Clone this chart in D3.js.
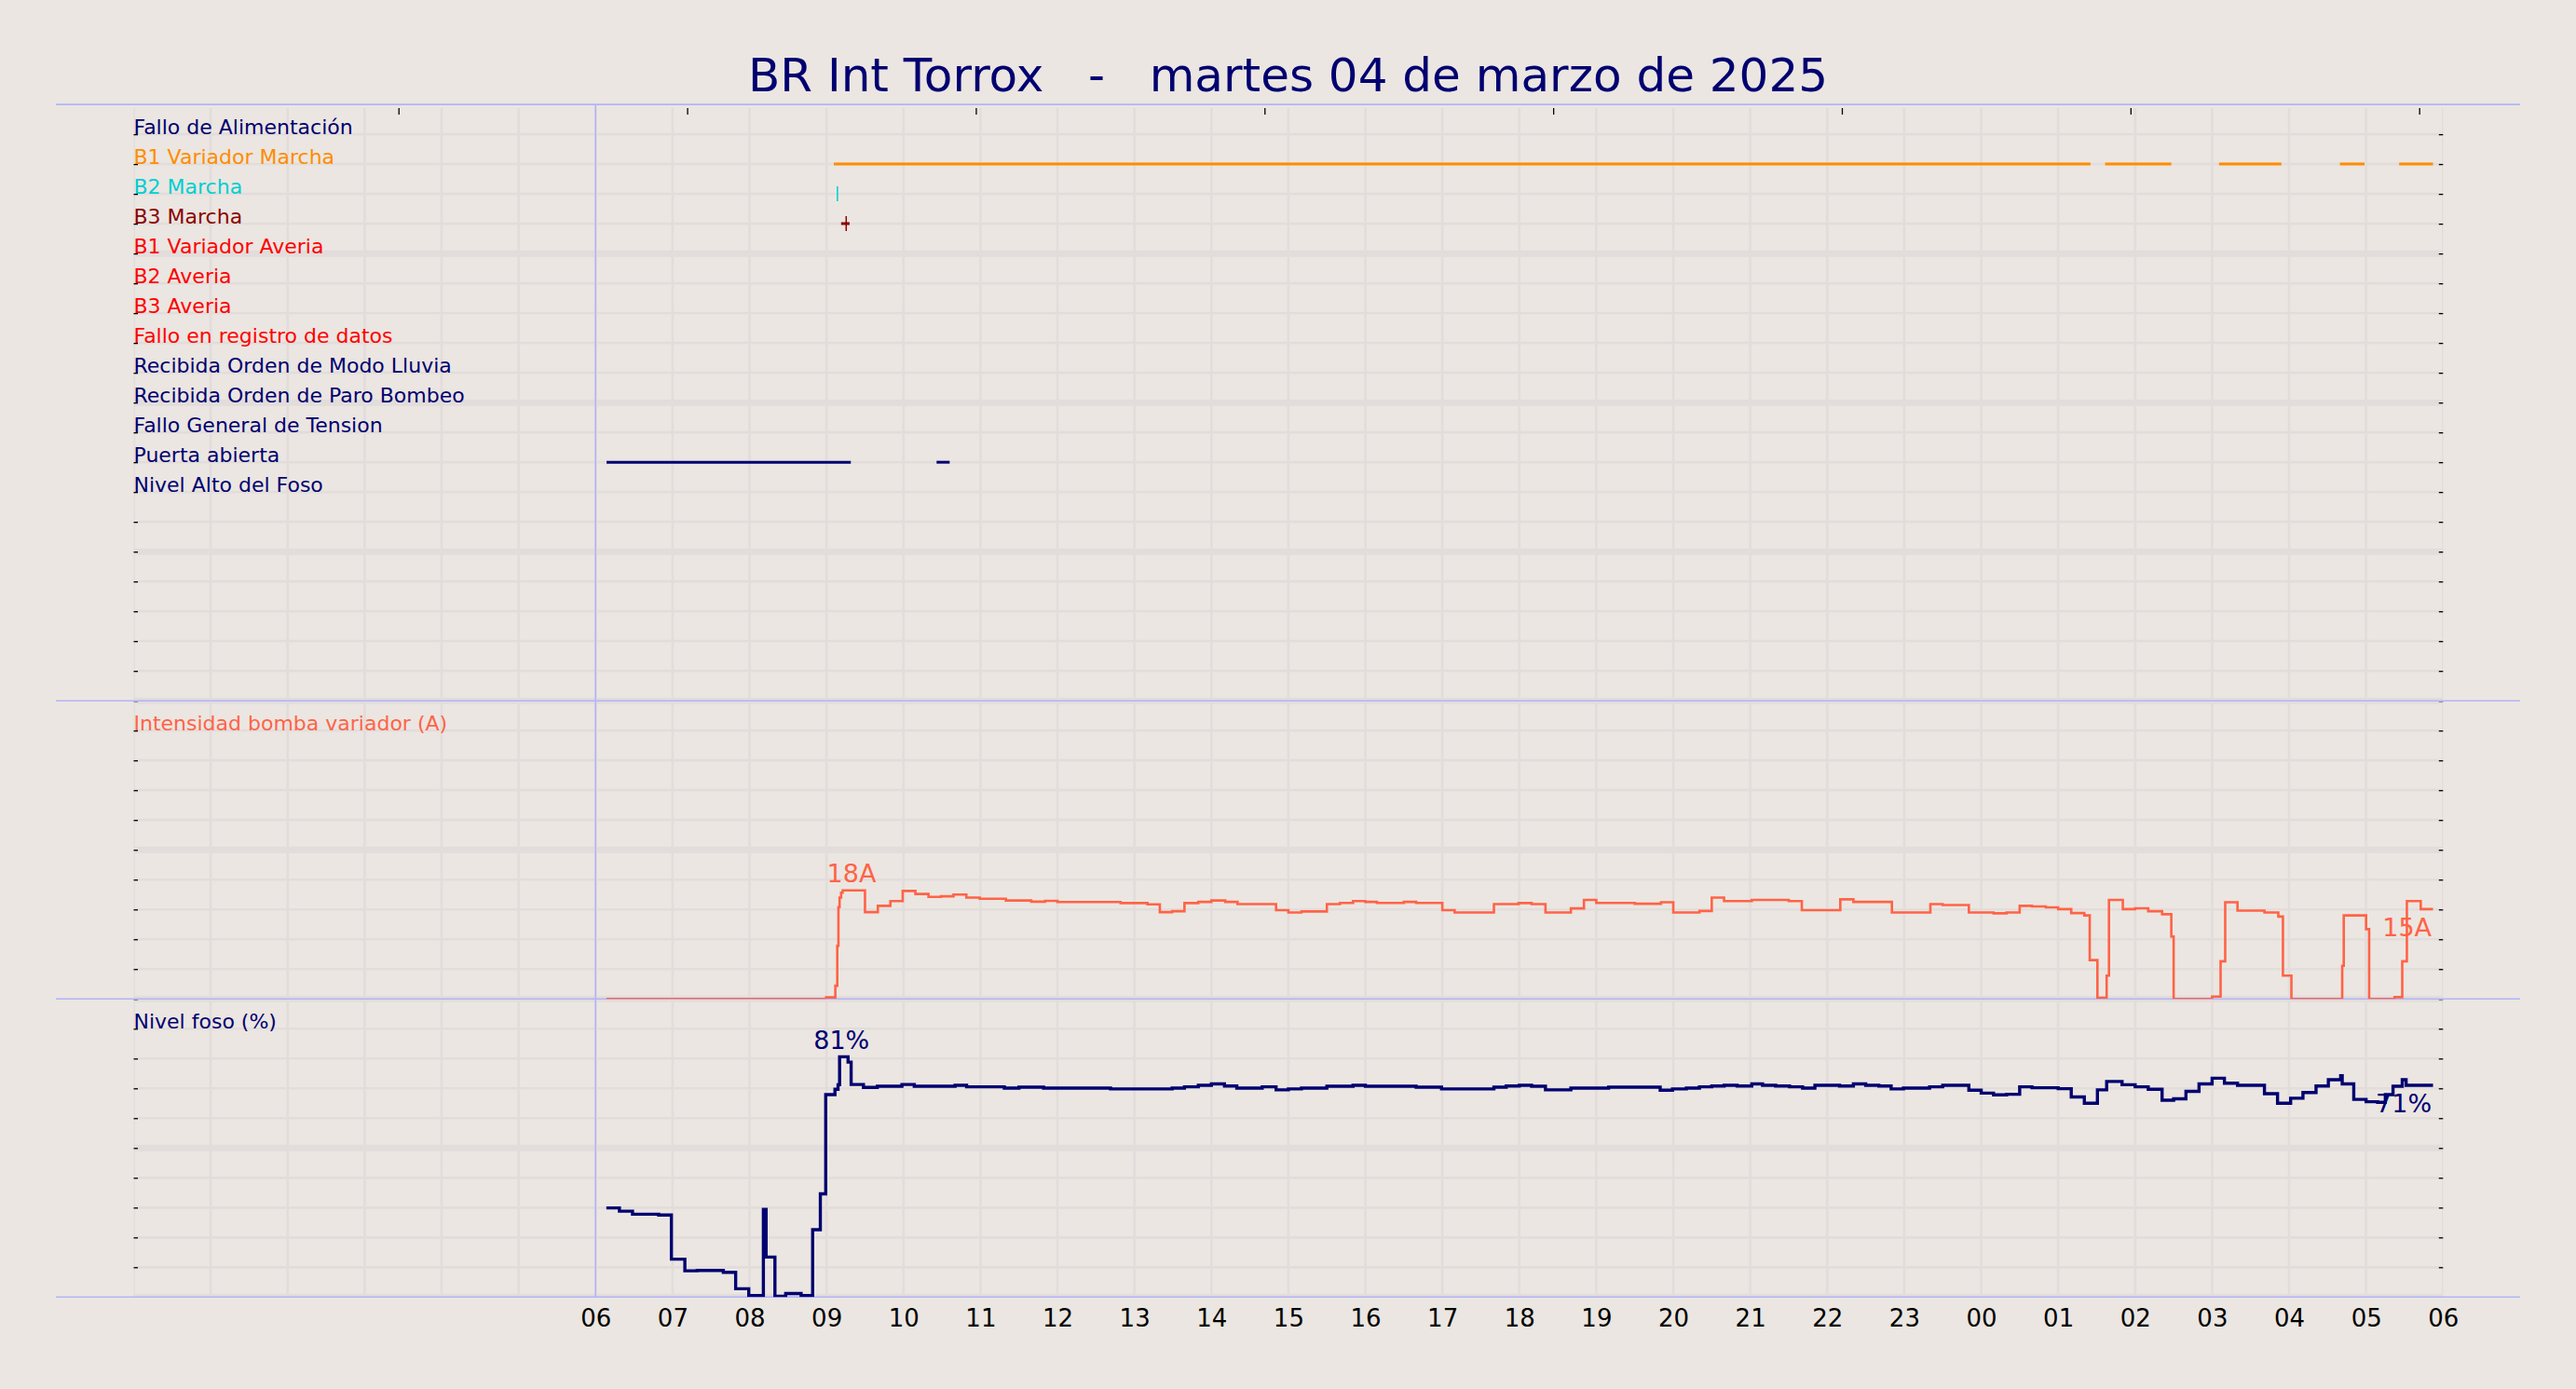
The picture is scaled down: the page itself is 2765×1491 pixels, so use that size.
<!DOCTYPE html>
<html>
<head>
<meta charset="utf-8">
<script src="https://cdn.jsdelivr.net/npm/d3@7"></script>
<style>
  html, body { margin: 0; padding: 0; background: #ebe6e1; }
  svg { display: block; }
  text { font-family: "DejaVu Sans", sans-serif; }
</style>
</head>
<body>
<svg id="chart" width="2765" height="1491"></svg>
<script>
// ---------------- DATA ----------------
const chartTitle = "BR Int Torrox   -   martes 04 de marzo de 2025";

const stateLabels = [
  "Fallo de Alimentación", "B1 Variador Marcha", "B2 Marcha", "B3 Marcha",
  "B1 Variador Averia", "B2 Averia", "B3 Averia", "Fallo en registro de datos",
  "Recibida Orden de Modo Lluvia", "Recibida Orden de Paro Bombeo",
  "Fallo General de Tension", "Puerta abierta", "Nivel Alto del Foso"
];
const stateColors = [
  "#000070", "#ff8c00", "#00ced1", "#8b0000",
  "#ff0000", "#ff0000", "#ff0000", "#ff0000",
  "#000070", "#000070", "#000070", "#000070", "#000070"
];

// Active periods, hours since 00:00 of 04/03 (values > 24 = next day)
const b1VariadorMarcha = [[9.095, 25.42], [25.61, 26.47], [27.09, 27.90], [28.66, 28.98], [29.43, 29.87]];
const b2MarchaMarks = [9.142];
const b3MarchaSegments = [[9.19, 9.30]];
const b3MarchaMarks = [9.256];
const puertaAbierta = [[6.143, 9.316], [10.43, 10.60]];

// Intensidad bomba variador (A): [hour, amps], step-after
const currentData = [
  [6.14, 0], [8.995, 0.25], [9.115, 2.2], [9.14, 8.9], [9.155, 15.4], [9.17, 17.0], [9.19, 17.8],
  [9.21, 18.2], [9.5, 14.55], [9.667, 15.6], [9.83, 16.4], [9.99, 18.1], [10.155, 17.6],
  [10.325, 17.1], [10.487, 17.2], [10.65, 17.5], [10.817, 17.0], [10.99, 16.8], [11.33, 16.5],
  [11.66, 16.3], [11.84, 16.45], [12.0, 16.25], [12.82, 16.07], [13.17, 15.85], [13.33, 14.55],
  [13.49, 14.7], [13.65, 16.07], [13.83, 16.27], [14.0, 16.5], [14.18, 16.27], [14.34, 15.9],
  [14.84, 14.87], [15.0, 14.5], [15.17, 14.66], [15.5, 15.9], [15.67, 16.1], [15.84, 16.4],
  [16.0, 16.27], [16.15, 16.1], [16.5, 16.27], [16.66, 16.1], [17.0, 14.87], [17.16, 14.5],
  [17.67, 15.9], [17.99, 16.07], [18.16, 15.9], [18.34, 14.5], [18.67, 15.18], [18.84, 16.6],
  [19.0, 16.1], [19.5, 15.95], [19.84, 16.2], [20.0, 14.5], [20.34, 14.75], [20.5, 17.0],
  [20.66, 16.4], [21.02, 16.6], [21.5, 16.4], [21.67, 14.87], [22.17, 16.7], [22.34, 16.27],
  [22.84, 14.5], [23.34, 15.9], [23.5, 15.75], [23.84, 14.5], [24.16, 14.35], [24.33, 14.5],
  [24.5, 15.6], [24.66, 15.5], [24.84, 15.35], [25.0, 15.05], [25.17, 14.4], [25.34, 14.0],
  [25.41, 6.5], [25.51, 0.2], [25.63, 3.9], [25.66, 16.6], [25.84, 15.05], [26.0, 15.2],
  [26.17, 14.7], [26.35, 14.2], [26.47, 10.45], [26.5, 0], [27.0, 0.4], [27.11, 6.3],
  [27.17, 16.2], [27.33, 14.8], [27.68, 14.5], [27.86, 13.8], [27.92, 3.9], [28.03, 0],
  [28.69, 5.55], [28.71, 14.0], [29.0, 11.7], [29.04, 0], [29.37, 0.3], [29.47, 6.3],
  [29.53, 16.4], [29.71, 15.05], [29.87, 15.05]
];

// Nivel foso (%): [hour, percent], step-after
const levelData = [
  [6.14, 29.9], [6.31, 28.8], [6.48, 27.8], [6.82, 27.5], [6.985, 12.7], [7.16, 8.8], [7.32, 8.9],
  [7.66, 8.3], [7.82, 2.8], [7.99, 0.5], [8.18, 29.4], [8.215, 13.4], [8.33, 0.3], [8.47, 1.2],
  [8.67, 0.5], [8.82, 22.6], [8.92, 34.6], [8.99, 67.9], [9.11, 69.7], [9.15, 71.2], [9.17, 80.6],
  [9.28, 78.8], [9.32, 71.3], [9.48, 70.3], [9.66, 70.7], [9.98, 71.3], [10.14, 70.7],
  [10.67, 71.0], [10.82, 70.5], [11.31, 70.1], [11.5, 70.4], [11.82, 70.1], [12.69, 69.8],
  [13.49, 70.1], [13.65, 70.5], [13.83, 71.0], [14.0, 71.5], [14.17, 70.8], [14.33, 70.1],
  [14.66, 70.5], [14.84, 69.5], [15.0, 69.8], [15.17, 70.1], [15.5, 70.7], [15.84, 71.0],
  [16.0, 70.7], [16.66, 70.4], [16.99, 69.8], [17.67, 70.4], [17.83, 70.8], [18.0, 71.0],
  [18.16, 70.7], [18.34, 69.5], [18.67, 70.1], [19.16, 70.4], [19.83, 69.4], [19.99, 69.8],
  [20.17, 70.1], [20.34, 70.5], [20.5, 70.8], [20.66, 71.0], [20.83, 70.8], [21.02, 71.5],
  [21.16, 71.0], [21.33, 70.8], [21.51, 70.5], [21.68, 70.1], [21.84, 71.0], [22.16, 70.8],
  [22.34, 71.5], [22.5, 71.0], [22.67, 70.8], [22.83, 69.8], [22.99, 70.1], [23.33, 70.5],
  [23.5, 71.0], [23.84, 69.4], [24.0, 68.4], [24.16, 67.8], [24.33, 68.0], [24.5, 70.5],
  [24.66, 70.2], [25.0, 69.9], [25.17, 67.1], [25.34, 65.0], [25.51, 69.5], [25.63, 72.3],
  [25.83, 71.2], [26.0, 70.5], [26.17, 69.7], [26.35, 66.0], [26.5, 66.5], [26.66, 69.0],
  [26.83, 71.5], [27.0, 73.4], [27.16, 71.7], [27.33, 71.0], [27.68, 68.2], [27.85, 65.0],
  [28.02, 66.7], [28.18, 68.6], [28.35, 70.8], [28.51, 72.9], [28.67, 74.2], [28.69, 71.5],
  [28.84, 66.3], [29.0, 65.5], [29.15, 65.3], [29.25, 67.9], [29.35, 70.7], [29.47, 72.9],
  [29.52, 71.0], [29.87, 71.0]
];

const xTickHours  = [6, 7, 8, 9, 10, 11, 12, 13, 14, 15, 16, 17, 18, 19, 20, 21, 22, 23, 24, 25, 26, 27, 28, 29, 30];
const xTickLabels = ["06","07","08","09","10","11","12","13","14","15","16","17","18","19","20","21","22","23","00","01","02","03","04","05","06"];
const topTickHours = [3.44, 7.19, 10.94, 14.69, 18.44, 22.19, 25.94, 29.69];

const currentLabel = "Intensidad bomba variador (A)";
const levelLabel = "Nivel foso (%)";

// ---------------- STYLE ----------------
const BG = "#ebe6e1", GRID = "#e2dddb", LAV = "#b3b3fa";
const NAVY = "#000070", TOMATO = "#ff6347";
const FONT = "DejaVu Sans";
const LABEL_OFFSET = 0.5;

// ---------------- SCALES ----------------
const svg = d3.select("#chart");
const x = d3.scaleLinear().domain([0, 30]).range([143.5, 2622.3]);
const yGrid = d3.scaleLinear().domain([0, 40]).range([112.1, 1392.3]);   // grid units
const yRow = k => yGrid(k + 1);
const yA = d3.scaleLinear().domain([0, 50]).range([yGrid(30), yGrid(20)]);
const yPct = d3.scaleLinear().domain([0, 100]).range([yGrid(40), yGrid(30)]);
const plotTop = 116;

svg.append("rect").attr("width", 2765).attr("height", 1491).attr("fill", BG);

const defs = svg.append("defs");
function clip(id, y0, y1) {
  defs.append("clipPath").attr("id", id).append("rect")
    .attr("x", x(0)).attr("y", y0).attr("width", x(30) - x(0)).attr("height", y1 - y0);
}
clip("clipAll", plotTop, yGrid(40));
clip("clipP1", plotTop, yGrid(20));
clip("clipP2", yGrid(20), yGrid(30));
clip("clipP3", yGrid(30), yGrid(40));

// ---------------- GRID ----------------
const grid = svg.append("g").attr("clip-path", "url(#clipAll)");
grid.selectAll("line.v").data(d3.range(0, 31)).join("line")
  .attr("x1", d => x(d)).attr("x2", d => x(d))
  .attr("y1", plotTop).attr("y2", yGrid(40))
  .attr("stroke", GRID).attr("stroke-width", 2.7);
grid.selectAll("line.h").data(d3.range(0, 41)).join("line")
  .attr("x1", x(0)).attr("x2", x(30))
  .attr("y1", d => yGrid(d)).attr("y2", d => yGrid(d))
  .attr("stroke", GRID).attr("stroke-width", d => d % 5 === 0 ? 7 : 2.7);

// ---------------- TICKS ----------------
function styleTicks(g) {
  g.select(".domain").remove();
  g.selectAll(".tick line").attr("stroke", "#000").attr("stroke-width", 1.3);
}
svg.append("g").attr("transform", `translate(${x(0)},0)`)
  .call(d3.axisRight(yGrid).tickValues(d3.range(1, 40)).tickSize(4.5).tickFormat(""))
  .call(styleTicks);
svg.append("g").attr("transform", `translate(${x(30)},0)`)
  .call(d3.axisLeft(yGrid).tickValues(d3.range(1, 40)).tickSize(4.5).tickFormat(""))
  .call(styleTicks);
svg.append("g").attr("transform", `translate(0,${plotTop})`)
  .call(d3.axisBottom(x).tickValues(topTickHours).tickSize(7).tickFormat(""))
  .call(styleTicks);

const gx = svg.append("g").attr("transform", `translate(0,${yGrid(40)})`)
  .call(d3.axisBottom(x).tickValues(xTickHours).tickFormat((d, i) => xTickLabels[i]).tickSize(0).tickPadding(0));
gx.select(".domain").remove();
gx.attr("font-size", 26).attr("font-family", FONT);
gx.selectAll("text").attr("y", 31.7).attr("dy", null).attr("fill", "#000");

// ---------------- LAVENDER SEPARATORS ----------------
const sep = svg.append("g");
sep.selectAll("line.h").data([0, 20, 30, 40]).join("line")
  .attr("x1", 60).attr("x2", 2705)
  .attr("y1", d => yGrid(d)).attr("y2", d => yGrid(d))
  .attr("stroke", LAV).attr("stroke-width", 1.6);
sep.append("line")
  .attr("x1", x(6)).attr("x2", x(6)).attr("y1", yGrid(0)).attr("y2", yGrid(40))
  .attr("stroke", LAV).attr("stroke-width", 1.6);

// ---------------- PANEL 1: STATES ----------------
const p1 = svg.append("g").attr("clip-path", "url(#clipP1)");
function segs(data, row, color, width) {
  p1.selectAll(null).data(data).join("line")
    .attr("x1", d => x(d[0])).attr("x2", d => x(d[1]))
    .attr("y1", yRow(row)).attr("y2", yRow(row))
    .attr("stroke", color).attr("stroke-width", width);
}
function marks(data, row, color) {
  p1.selectAll(null).data(data).join("line")
    .attr("x1", d => x(d)).attr("x2", d => x(d))
    .attr("y1", yRow(row) - 8).attr("y2", yRow(row) + 8)
    .attr("stroke", color).attr("stroke-width", 1.5);
}
segs(b1VariadorMarcha, 1, stateColors[1], 3);
marks(b2MarchaMarks, 2, stateColors[2]);
segs(b3MarchaSegments, 3, stateColors[3], 3);
marks(b3MarchaMarks, 3, stateColors[3]);
segs(puertaAbierta, 11, stateColors[11], 3);

svg.append("g").selectAll("text").data(stateLabels).join("text")
  .attr("x", x(0)).attr("y", (d, i) => yRow(i) - LABEL_OFFSET)
  .attr("font-size", 22).attr("fill", (d, i) => stateColors[i])
  .text(d => d);

// ---------------- PANEL 2: CURRENT ----------------
const stepLine = (ys) => d3.line().x(d => x(d[0])).y(d => ys(d[1])).curve(d3.curveStepAfter);
svg.append("g").attr("clip-path", "url(#clipP2)").append("path")
  .datum(currentData).attr("d", stepLine(yA))
  .attr("fill", "none").attr("stroke", TOMATO).attr("stroke-width", 2.6);
svg.append("text").attr("x", x(0)).attr("y", yGrid(21) - LABEL_OFFSET)
  .attr("font-size", 22).attr("fill", TOMATO).text(currentLabel);

// ---------------- PANEL 3: LEVEL ----------------
svg.append("g").attr("clip-path", "url(#clipP3)").append("path")
  .datum(levelData).attr("d", stepLine(yPct))
  .attr("fill", "none").attr("stroke", NAVY).attr("stroke-width", 3.4);
svg.append("text").attr("x", x(0)).attr("y", yGrid(31) - LABEL_OFFSET)
  .attr("font-size", 22).attr("fill", NAVY).text(levelLabel);

// ---------------- ANNOTATIONS ----------------
function annotate(data, ys, unit, color) {
  const iMax = d3.maxIndex(data, d => d[1]);
  const pMax = data[iMax], pNext = data[Math.min(iMax + 1, data.length - 1)];
  svg.append("text")
    .attr("x", (x(pMax[0]) + x(pNext[0])) / 2 - 2.5).attr("y", ys(pMax[1]) - 8.5)
    .attr("text-anchor", "middle").attr("font-size", 27).attr("fill", color)
    .text(Math.round(pMax[1]) + unit);
  const last = data[data.length - 1];
  svg.append("text")
    .attr("x", x(last[0]) - 1.5).attr("y", ys(last[1]) + 29)
    .attr("text-anchor", "end").attr("font-size", 27).attr("fill", color)
    .text(Math.round(last[1]) + unit);
}
annotate(currentData, yA, "A", TOMATO);
annotate(levelData, yPct, "%", NAVY);

// ---------------- TITLE ----------------
svg.append("text").attr("x", 2765 / 2).attr("y", 98)
  .attr("text-anchor", "middle").attr("font-size", 50).attr("fill", NAVY)
  .style("white-space", "pre").attr("xml:space", "preserve")
  .text(chartTitle);
</script>
</body>
</html>
